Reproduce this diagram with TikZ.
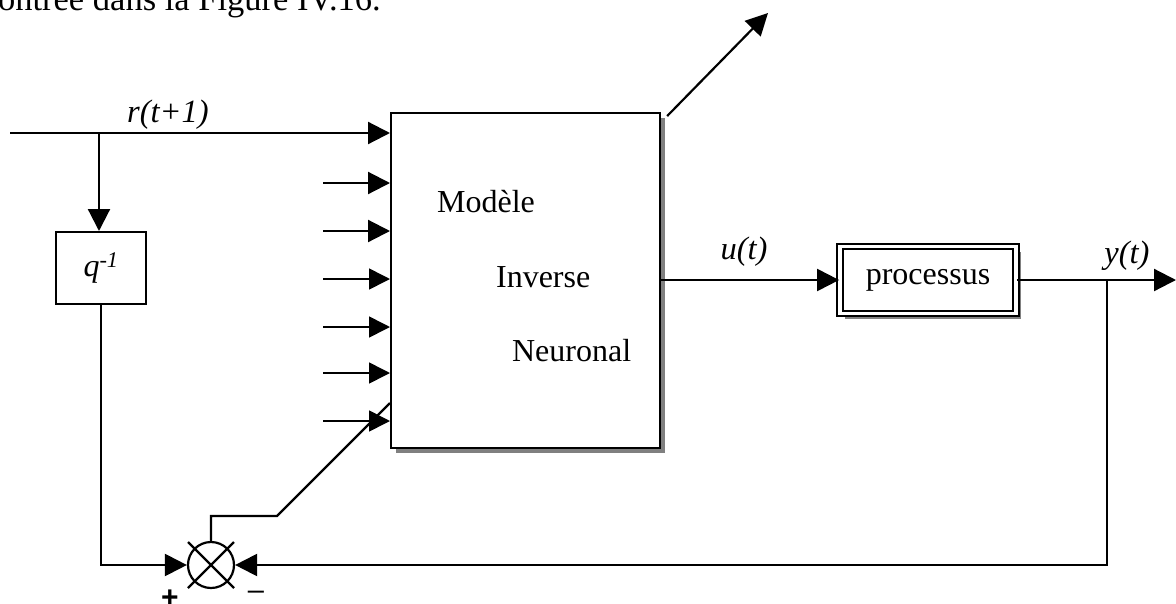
\documentclass[tikz,border=0pt]{standalone}
\usepackage{fontspec}
\setmainfont{Liberation Serif}
\newfontfamily\signfont{Liberation Sans}
\usetikzlibrary{arrows.meta,shadows,calc}
\begin{document}
\begin{tikzpicture}[x=1pt,y=-1pt,line width=2.2pt,
  tip/.style={-{Triangle[length=22pt,width=22pt]}},
  thintip/.style={line width=1.6pt,-{Triangle[length=21pt,width=21pt]}},
  blk/.style={draw,fill=white,inner sep=0pt},
  shade/.style={drop shadow={shadow xshift=5pt,shadow yshift=-5pt,fill=gray,opacity=1}},
  lbl/.style={font=\fontsize{32.5}{38}\selectfont\itshape,inner sep=0pt,anchor=base},
  txt/.style={font=\fontsize{32}{38}\selectfont,inner sep=0pt,anchor=base west},
  sign/.style={font=\fontsize{29}{32}\selectfont\signfont,inner sep=0pt,anchor=base}]
\useasboundingbox (0,0) rectangle (1176,603);

% running text above the figure
\node[txt,font=\fontsize{34.5}{40}\selectfont] (cap) at (-3,10) {ontrée dans la Figure IV.16.};

% blocks
\node[blk,shade,minimum width=269pt,minimum height=335pt,anchor=north west] (nn) at (390,112) {};
\node[txt] (m1) at (436,212) {Modèle};
\node[txt] (m2) at (495,287) {Inverse};
\node[txt] (m3) at (511,361) {Neuronal};

\node[blk,minimum width=90pt,minimum height=72pt,anchor=north west,
      font=\fontsize{32}{38}\selectfont\itshape] (q) at (55,231) {q\textsuperscript{-1}};

\node[blk,shade,double,line width=1.8pt,double distance=3.5pt,
      minimum width=176pt,minimum height=67pt,
      font=\fontsize{32}{38}\selectfont] (pr) at (928,280) {processus};

\node[draw,circle,minimum size=46pt,inner sep=0pt] (s) at (211,565) {};
\draw (s.center) ++(-23,-23) -- ++(46,46);
\draw (s.center) ++(-23,23) -- ++(46,-46);

% reference input
\coordinate (rin) at (10,133);
\coordinate (rb) at (99,133);
\draw[tip] (rin) -- (rin -| nn.west);
\draw[tip] (rb) -- (q.north -| rb);
\node[lbl] (rl) at (168,122) {r(t+1)};

% other network inputs
\foreach \y/\st in {183/tip,231/tip,279/thintip,327/thintip,373/thintip,421/thintip}{
  \coordinate (in\y) at (323,\y);
  \draw[\st] (in\y) -- (in\y -| nn.west);
}

% output of the network
\coordinate (o1) at (768,13);
\draw[tip] ($(nn.north east)+(6,4)$) -- (o1);
\draw[tip] (pr.west -| nn.east) -- (pr.west);
\node[lbl] (ul) at (744,259) {u(t)};

% process output and feedback
\coordinate (yend) at (1176,280);
\coordinate (yb) at (1107,280);
\draw[tip] (pr.east) -- (yend);
\node[lbl] (yl) at (1127,263) {y(t)};
\draw[tip] (yb) |- (s.east);
\draw[tip] (q.south) |- (s.west);

% error to the network
\coordinate (k1) at (277,516);
\draw (s.north) |- (k1) -- ($(k1)+(113,-113)$);

\node[sign,font=\fontsize{30}{32}\selectfont\signfont\bfseries] (plus) at (170,607) {+};
\node[sign] (minus) at (256,599) {–};
\end{tikzpicture}
\end{document}
